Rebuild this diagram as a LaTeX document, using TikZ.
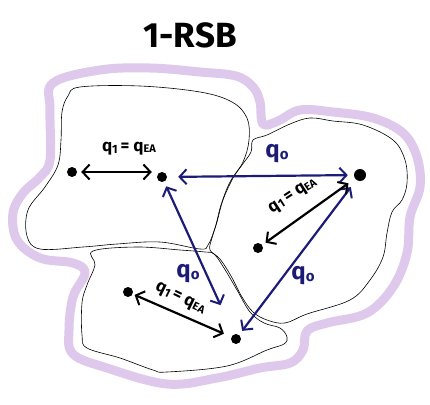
\documentclass[tikz,border=0pt]{standalone}
\usepackage{fontspec}
\setmainfont{Fira Sans}
\usetikzlibrary{arrows.meta}
\definecolor{lav}{RGB}{222,200,236}
\definecolor{navy}{RGB}{28,28,120}
\newcommand{\qea}{q\raisebox{-1.5pt}{\fontsize{12}{12}\selectfont 1}\,= q\raisebox{-1pt}{\fontsize{11}{11}\selectfont EA}}
\newcommand{\qzero}{q\raisebox{-2pt}{\fontsize{15}{15}\selectfont o}}
\tikzset{
  region/.style={draw=black, line width=0.6pt},
  outer/.style={draw=lav, line width=9pt, line join=round},
  dot/.style={circle, fill=black, inner sep=0pt, minimum size=10pt},
  barb/.style={line width=2.2pt, {Straight Barb[length=7pt,width=15pt,line width=2pt]}-{Straight Barb[length=7pt,width=15pt,line width=2pt]}},
  blk/.style={barb, draw=black},
  blu/.style={barb, draw=navy},
  lab/.style={font=\bfseries\fontsize{17}{17}\selectfont, text=black, inner sep=0pt},
  qlab/.style={font=\fontsize{24}{24}\selectfont\bfseries, text=navy, inner sep=0pt},
}
\begin{document}
\begin{tikzpicture}[x=1pt,y=-1pt]
\useasboundingbox (0,0) rectangle (430,404);
% outer purple boundary
\draw[outer] plot[smooth cycle, tension=0.6] coordinates {
 (53,83) (100,70) (150,68) (200,72) (236,76) (253,87) (260,102) (263,124)
 (278,121) (300,110) (333,112) (373,118) (403,133) (417,157) (420,187)
 (410,217) (407,253) (393,287) (367,313) (327,323) (307,331) (303,350)
 (290,363) (260,368) (217,378) (167,384) (107,368) (73,354) (69,330)
 (73,297) (85,273) (73,263) (40,258) (17,240) (13,213) (23,193) (40,177)
 (50,160) (50,110)};
% region 1
\draw[region] plot[smooth cycle, tension=0.6] coordinates {
 (80,87) (140,86) (200,92) (232,102) (247,118) (249,140) (243,162) (230,182)
 (221,205) (215,228) (208,245) (200,249) (160,242) (117,244) (83,247) (40,249)
 (27,236) (28,210) (45,187) (58,165) (61,140) (62,112) (68,96)};
% region 2
\draw[region] plot[smooth cycle, tension=0.6] coordinates {
 (253,140) (267,135) (290,124) (310,118) (333,121) (363,125) (393,140)
 (405,160) (407,183) (402,200) (392,212) (387,233) (383,257) (370,280)
 (350,300) (307,314) (285,323) (267,320) (253,312) (242,297) (231,276)
 (220,259) (210,250) (212,238) (217,222) (223,200) (233,178) (242,165)
 (251,152)};
% region 3
\draw[region] plot[smooth cycle, tension=0.6] coordinates {
 (93,251) (137,247) (180,250) (205,252) (214,254) (224,268) (237,290)
 (250,312) (264,323) (280,328) (287,337) (284,344) (267,350) (227,366)
 (167,372) (153,370) (120,358) (87,348) (82,335) (82,303) (87,285)
 (95,265)};
% title
\node[font=\bfseries\fontsize{35}{35}\selectfont, inner sep=0pt] (title) at (190,35) {1-RSB};
% dots
\node[dot] (A) at (72,172) {};
\node[dot] (B) at (162,177) {};
\node[dot, minimum size=12pt] (C) at (360,175) {};
\node[dot] (D) at (258,248) {};
\node[dot] (E) at (128,292) {};
\node[dot] (F) at (236,339) {};
% arrows
\draw[blk, shorten <=4pt, shorten >=5pt] (A.east) -- (A.east -| B.west);
\draw[blu, shorten <=11pt, shorten >=6pt] (B) -- (C);
\draw[blu, shorten <=5pt, shorten >=32pt] (B) -- (F);
\draw[blu, shorten <=9pt, shorten >=5pt] (C) -- (F);
\draw[blk, shorten <=8pt, shorten >=4pt] (C) -- (D);
\draw[blk, shorten <=2pt, shorten >=8pt] (E) -- (F);
% labels
\node[lab] (l1) at (129,149) {\qea};
\node[lab, rotate=33] (l2) at (293,196) {\qea};
\node[lab, rotate=-26] (l3) at (180,299) {\qea};
\node[qlab] (q1) at (277,154) {\qzero};
\node[qlab] (q2) at (188,274) {\qzero};
\node[qlab] (q3) at (303,276) {\qzero};
\end{tikzpicture}
\end{document}
